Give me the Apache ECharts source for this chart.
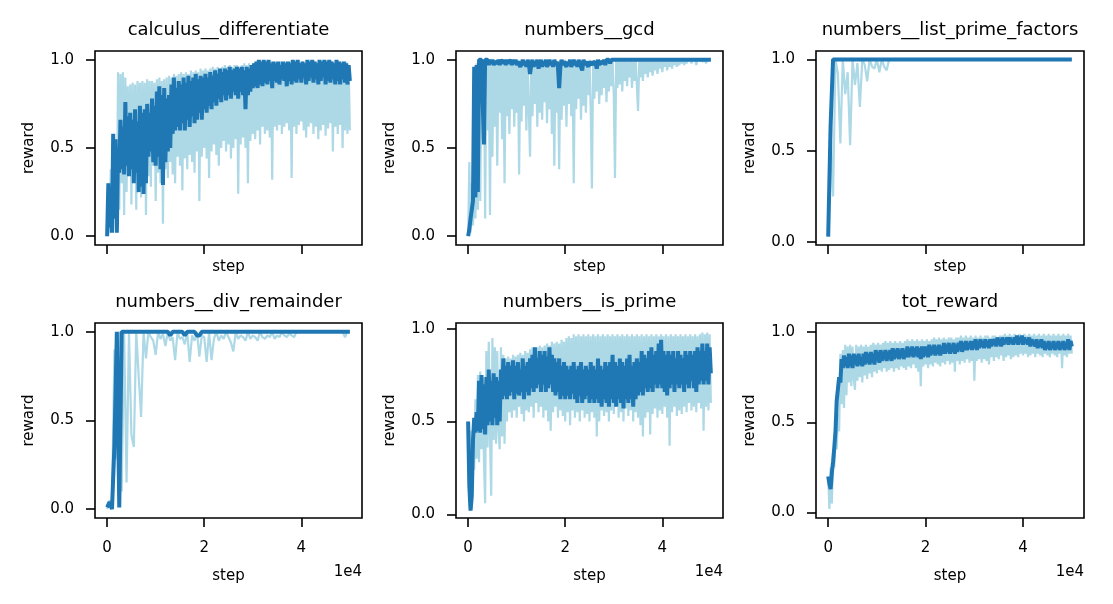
<!DOCTYPE html>
<html>
<head>
<meta charset="utf-8">
<title>reward curves</title>
<script src="https://cdn.jsdelivr.net/npm/echarts@6/dist/echarts.min.js"></script>
<style>
html, body { margin: 0; padding: 0; background: #fff; }
#chart { width: 1113px; height: 604px; }
</style>
</head>
<body>
<div id="chart"></div>
<script>
// logging interval (training steps between two values) of each panel
var panelStep = [250, 250, 500, 500, 250, 250];

var panelTitles = [
  "calculus__differentiate", "numbers__gcd", "numbers__list_prime_factors",
  "numbers__div_remainder", "numbers__is_prime", "tot_reward"
];

var xTicks = [0, 20000, 40000];
var yTicks = [0, 0.5, 1.0];

// raw reward (light) and smoothed reward (dark)
var diffRaw = [0.00,0.30,0.02,0.38,0.05,0.55,0.10,0.45,0.12,0.93,
  0.15,0.92,0.30,0.93,0.12,0.90,0.25,0.85,0.35,0.86,
  0.18,0.87,0.32,0.86,0.15,0.88,0.36,0.87,0.22,0.88,
  0.38,0.87,0.12,0.89,0.34,0.88,0.28,0.88,0.40,0.87,
  0.20,0.89,0.36,0.90,0.30,0.88,0.07,0.89,0.38,0.90,
  0.33,0.91,0.42,0.90,0.35,0.92,0.30,0.91,0.45,0.92,
  0.40,0.93,0.26,0.92,0.44,0.93,0.38,0.92,0.46,0.94,
  0.42,0.93,0.36,0.94,0.48,0.93,0.20,0.95,0.45,0.94,
  0.50,0.95,0.44,0.94,0.33,0.95,0.48,0.96,0.52,0.95,
  0.46,0.96,0.40,0.95,0.50,0.96,0.54,0.97,0.48,0.96,
  0.52,0.97,0.44,0.96,0.50,0.97,0.55,0.97,0.24,0.96,
  0.52,0.97,0.56,0.98,0.50,0.97,0.30,0.98,0.54,0.97,
  0.58,0.98,0.55,0.98,0.60,0.99,0.52,0.98,0.62,0.98,
  0.58,0.99,0.60,0.98,0.56,0.99,0.32,0.98,0.62,0.99,
  0.60,0.98,0.63,0.99,0.58,0.98,0.62,0.99,0.64,0.98,
  0.60,0.99,0.33,0.98,0.62,0.99,0.58,0.99,0.63,0.98,
  0.65,0.99,0.60,0.98,0.56,0.99,0.62,0.99,0.64,0.98,
  0.58,0.99,0.62,0.98,0.55,0.99,0.60,0.99,0.63,0.98,
  0.57,0.99,0.61,0.98,0.64,0.99,0.48,0.98,0.62,0.99,
  0.58,0.98,0.63,0.99,0.50,0.98,0.60,0.99,0.58,0.97,
  0.60];
var diffSmooth = [0.00,0.30,0.05,0.28,0.02,0.58,0.10,0.55,0.02,0.50,
  0.36,0.66,0.38,0.62,0.35,0.76,0.40,0.68,0.34,0.70,
  0.38,0.66,0.30,0.72,0.36,0.65,0.25,0.74,0.28,0.70,
  0.24,0.72,0.30,0.75,0.45,0.70,0.48,0.78,0.42,0.74,
  0.40,0.82,0.45,0.85,0.38,0.80,0.29,0.84,0.42,0.78,
  0.48,0.80,0.50,0.86,0.58,0.90,0.60,0.84,0.62,0.88,
  0.60,0.86,0.64,0.90,0.60,0.87,0.66,0.91,0.62,0.88,
  0.68,0.90,0.64,0.92,0.66,0.89,0.70,0.91,0.66,0.90,
  0.72,0.92,0.70,0.90,0.74,0.93,0.72,0.91,0.76,0.94,
  0.74,0.92,0.78,0.95,0.76,0.93,0.80,0.95,0.77,0.94,
  0.80,0.96,0.78,0.94,0.82,0.95,0.80,0.96,0.78,0.95,
  0.82,0.96,0.80,0.94,0.72,0.96,0.80,0.95,0.82,0.97,
  0.84,0.98,0.85,0.99,0.84,1.00,0.86,0.99,0.85,1.00,
  0.87,0.99,0.86,1.00,0.88,0.98,0.84,0.99,0.88,0.98,
  0.87,0.99,0.86,0.97,0.89,0.99,0.88,0.98,0.85,0.99,
  0.88,0.98,0.86,1.00,0.88,0.99,0.87,1.00,0.89,0.98,
  0.87,0.99,0.90,0.98,0.86,1.00,0.88,0.99,0.90,1.00,
  0.87,0.99,0.89,0.98,0.86,1.00,0.88,0.99,0.90,1.00,
  0.86,0.99,0.88,1.00,0.87,0.99,0.89,0.98,0.86,1.00,
  0.88,0.99,0.86,0.98,0.89,0.99,0.87,0.98,0.86,0.97,
  0.88];

var gcdRaw = [0.00,0.42,0.02,0.30,0.06,0.40,0.10,0.98,0.15,1.00,
  0.20,1.00,0.55,1.00,0.10,1.00,0.60,1.00,0.12,0.99,
  0.45,1.00,0.62,0.99,0.40,1.00,0.70,0.99,0.55,1.00,
  0.30,0.99,0.68,1.00,0.58,0.99,0.72,1.00,0.62,0.99,
  0.70,1.00,0.35,0.99,0.65,1.00,0.74,0.99,0.60,1.00,
  0.72,0.45,1.00,0.68,0.99,0.75,1.00,0.62,0.99,0.70,
  1.00,0.66,0.99,0.76,1.00,0.64,0.99,0.72,1.00,0.58,
  0.99,0.40,1.00,0.70,0.99,0.38,1.00,0.66,0.99,0.74,
  1.00,0.62,0.99,0.75,1.00,0.68,0.99,0.30,1.00,0.72,
  0.99,0.78,1.00,0.66,0.99,0.74,1.00,0.70,0.99,0.80,
  1.00,0.72,0.27,0.99,0.78,1.00,0.82,0.99,0.75,1.00,
  0.80,0.99,0.84,1.00,0.76,0.99,0.82,1.00,0.85,0.99,
  0.80,0.33,1.00,0.84,0.99,0.86,1.00,0.82,0.99,0.88,
  1.00,0.85,0.99,0.90,1.00,0.84,0.99,0.88,1.00,0.86,
  0.71,0.99,0.90,1.00,0.88,0.99,0.92,1.00,0.90,0.99,
  0.93,1.00,0.91,0.99,0.94,1.00,0.92,0.99,0.95,1.00,
  0.93,0.99,0.96,1.00,0.94,0.99,0.96,1.00,0.95,1.00,
  0.97,1.00,0.96,0.99,0.97,1.00,0.98,1.00,0.97,1.00,
  0.98,1.00,0.99,1.00,0.98,1.00,0.99,1.00,0.97,1.00,
  0.99,1.00,1.00,0.99,1.00,1.00,0.98,1.00,1.00,1.00,
  1.00];
var gcdSmooth = [0.00,0.04,0.10,0.15,0.20,0.96,0.22,0.97,0.25,1.00,
  1.00,1.00,1.00,0.52,1.00,0.99,1.00,0.97,1.00,0.98,
  1.00,0.97,0.99,1.00,0.98,1.00,0.97,1.00,0.99,0.98,
  1.00,0.97,1.00,0.98,0.99,1.00,0.97,1.00,0.98,1.00,
  0.97,0.99,1.00,0.96,0.98,1.00,0.97,0.99,0.96,1.00,
  0.98,0.92,0.97,1.00,0.96,0.99,0.97,1.00,0.95,0.98,
  1.00,0.96,0.99,0.97,1.00,0.96,0.98,1.00,0.97,0.99,
  0.96,1.00,0.97,0.99,0.96,0.84,0.96,1.00,0.97,0.99,
  1.00,0.96,0.99,0.97,1.00,0.96,0.98,1.00,0.97,0.99,
  0.96,1.00,0.98,0.99,0.94,1.00,0.97,0.99,1.00,0.96,
  0.99,1.00,0.97,0.99,1.00,0.98,0.95,1.00,0.97,0.99,
  1.00,0.98,1.00,0.97,1.00,0.99,1.00,0.98,1.00,1.00,
  1.00,1.00,1.00,1.00,1.00,1.00,1.00,1.00,1.00,1.00,
  1.00,1.00,1.00,1.00,1.00,1.00,1.00,1.00,1.00,1.00,
  1.00,1.00,1.00,1.00,1.00,1.00,1.00,1.00,1.00,1.00,
  1.00,1.00,1.00,1.00,1.00,1.00,1.00,1.00,1.00,1.00,
  1.00,1.00,1.00,1.00,1.00,1.00,1.00,1.00,1.00,1.00,
  1.00,1.00,1.00,1.00,1.00,1.00,1.00,1.00,1.00,1.00,
  1.00,1.00,1.00,1.00,1.00,1.00,1.00,1.00,1.00,1.00,
  1.00,1.00,1.00,1.00,1.00,1.00,1.00,1.00,1.00,1.00,
  1.00];

var lpfRaw = [0.03,0.60,0.25,1.00,0.92,0.54,1.00,0.81,0.93,0.53,
  1.00,0.86,0.98,0.74,1.00,0.97,0.88,1.00,0.96,0.95,
  1.00,0.93,1.00,0.96,0.94,1.00,1.00,1.00,1.00,1.00,
  1.00,1.00,1.00,1.00,1.00,1.00,1.00,1.00,1.00,1.00,
  1.00,1.00,1.00,1.00,1.00,1.00,1.00,1.00,1.00,1.00,
  1.00,1.00,1.00,1.00,1.00,1.00,1.00,1.00,1.00,1.00,
  1.00,1.00,1.00,1.00,1.00,1.00,1.00,1.00,1.00,1.00,
  1.00,1.00,1.00,1.00,1.00,1.00,1.00,1.00,1.00,1.00,
  1.00,1.00,1.00,1.00,1.00,1.00,1.00,1.00,1.00,1.00,
  1.00,1.00,1.00,1.00,1.00,1.00,1.00,1.00,1.00,1.00,
  1.00];
var lpfSmooth = [0.03,0.64,1.00,1.00,1.00,1.00,1.00,1.00,1.00,1.00,
  1.00,1.00,1.00,1.00,1.00,1.00,1.00,1.00,1.00,1.00,
  1.00,1.00,1.00,1.00,1.00,1.00,1.00,1.00,1.00,1.00,
  1.00,1.00,1.00,1.00,1.00,1.00,1.00,1.00,1.00,1.00,
  1.00,1.00,1.00,1.00,1.00,1.00,1.00,1.00,1.00,1.00,
  1.00,1.00,1.00,1.00,1.00,1.00,1.00,1.00,1.00,1.00,
  1.00,1.00,1.00,1.00,1.00,1.00,1.00,1.00,1.00,1.00,
  1.00,1.00,1.00,1.00,1.00,1.00,1.00,1.00,1.00,1.00,
  1.00,1.00,1.00,1.00,1.00,1.00,1.00,1.00,1.00,1.00,
  1.00,1.00,1.00,1.00,1.00,1.00,1.00,1.00,1.00,1.00,
  1.00];

var divRaw = [0.00,0.05,0.02,0.90,0.28,1.00,0.10,1.00,0.15,1.00,
  0.42,0.35,1.00,0.75,0.52,1.00,0.85,1.00,0.97,0.95,
  0.87,1.00,0.96,0.99,0.92,1.00,0.95,0.97,0.84,1.00,
  0.96,0.97,0.93,1.00,0.83,0.98,0.95,1.00,0.86,0.98,
  0.97,0.83,1.00,0.84,0.96,1.00,0.95,0.98,0.96,1.00,
  0.97,0.94,0.89,1.00,0.96,0.98,0.97,0.95,1.00,0.96,
  0.98,0.97,0.95,1.00,0.97,0.96,0.98,0.97,1.00,0.96,
  0.98,0.97,1.00,0.98,0.97,0.99,0.98,0.97,1.00,1.00,
  1.00,1.00,1.00,1.00,1.00,1.00,1.00,1.00,1.00,1.00,
  1.00,1.00,1.00,1.00,1.00,1.00,1.00,1.00,0.97,1.00,
  1.00];
var divSmooth = [0.01,0.04,0.00,0.36,1.00,0.01,1.00,1.00,1.00,1.00,
  1.00,1.00,1.00,1.00,1.00,1.00,1.00,1.00,1.00,1.00,
  1.00,1.00,1.00,1.00,1.00,1.00,0.98,1.00,1.00,1.00,
  1.00,1.00,0.98,1.00,1.00,1.00,1.00,0.98,0.98,1.00,
  1.00,1.00,1.00,1.00,1.00,1.00,1.00,1.00,1.00,1.00,
  1.00,1.00,1.00,1.00,1.00,1.00,1.00,1.00,1.00,1.00,
  1.00,1.00,1.00,1.00,1.00,1.00,1.00,1.00,1.00,1.00,
  1.00,1.00,1.00,1.00,1.00,1.00,1.00,1.00,1.00,1.00,
  1.00,1.00,1.00,1.00,1.00,1.00,1.00,1.00,1.00,1.00,
  1.00,1.00,1.00,1.00,1.00,1.00,1.00,1.00,1.00,1.00,
  1.00];

var primeRaw = [0.50,0.05,0.45,0.22,0.40,0.24,0.62,0.30,0.75,0.28,
  0.77,0.35,0.74,0.30,0.06,0.88,0.36,0.93,0.42,0.10,
  0.95,0.40,0.90,0.38,0.88,0.45,0.35,0.90,0.42,0.86,
  0.38,0.84,0.50,0.85,0.55,0.84,0.52,0.86,0.56,0.85,
  0.52,0.86,0.58,0.87,0.54,0.86,0.50,0.88,0.56,0.87,
  0.55,0.89,0.58,0.90,0.52,0.88,0.60,0.90,0.55,0.91,
  0.58,0.90,0.52,0.91,0.56,0.92,0.50,0.91,0.45,0.93,
  0.55,0.92,0.58,0.93,0.52,0.92,0.56,0.94,0.53,0.93,
  0.50,0.95,0.55,0.96,0.48,0.95,0.56,0.97,0.52,0.96,
  0.55,0.97,0.50,0.96,0.56,0.97,0.52,0.96,0.54,0.97,
  0.50,0.96,0.55,0.97,0.52,0.96,0.42,0.97,0.50,0.96,
  0.56,0.97,0.53,0.96,0.55,0.97,0.50,0.96,0.56,0.97,
  0.54,0.96,0.58,0.97,0.52,0.96,0.55,0.97,0.50,0.96,
  0.57,0.97,0.53,0.96,0.56,0.97,0.50,0.96,0.55,0.97,
  0.52,0.96,0.48,0.97,0.42,0.96,0.52,0.97,0.55,0.96,
  0.43,0.97,0.54,0.96,0.57,0.97,0.52,0.96,0.56,0.97,
  0.54,0.96,0.58,0.97,0.52,0.96,0.37,0.97,0.55,0.96,
  0.58,0.97,0.53,0.96,0.56,0.97,0.54,0.96,0.58,0.97,
  0.55,0.96,0.60,0.97,0.56,0.96,0.58,0.97,0.55,0.96,
  0.60,0.97,0.57,0.98,0.45,0.97,0.58,0.98,0.56,0.97,
  0.60];
var primeSmooth = [0.50,0.15,0.02,0.10,0.40,0.52,0.44,0.55,0.45,0.72,
  0.44,0.75,0.46,0.70,0.43,0.74,0.48,0.78,0.50,0.72,
  0.48,0.76,0.52,0.74,0.48,0.72,0.50,0.78,0.62,0.84,
  0.64,0.80,0.62,0.82,0.64,0.80,0.66,0.83,0.62,0.80,
  0.65,0.82,0.64,0.78,0.66,0.84,0.62,0.80,0.66,0.82,
  0.64,0.84,0.68,0.86,0.66,0.90,0.68,0.84,0.70,0.88,
  0.66,0.86,0.70,0.88,0.66,0.85,0.68,0.90,0.70,0.86,
  0.66,0.84,0.64,0.82,0.66,0.84,0.62,0.80,0.64,0.82,
  0.62,0.80,0.64,0.78,0.62,0.80,0.65,0.82,0.62,0.78,
  0.60,0.80,0.64,0.82,0.60,0.78,0.62,0.80,0.64,0.78,
  0.60,0.82,0.62,0.80,0.60,0.78,0.62,0.84,0.60,0.80,
  0.58,0.78,0.62,0.82,0.60,0.80,0.58,0.82,0.62,0.86,
  0.60,0.82,0.58,0.80,0.62,0.84,0.60,0.82,0.57,0.80,
  0.62,0.84,0.60,0.86,0.62,0.80,0.58,0.82,0.62,0.84,
  0.64,0.82,0.66,0.88,0.64,0.86,0.68,0.84,0.66,0.88,
  0.68,0.90,0.66,0.86,0.70,0.88,0.68,0.92,0.70,0.94,
  0.68,0.88,0.66,0.86,0.64,0.88,0.68,0.86,0.70,0.88,
  0.66,0.84,0.70,0.88,0.68,0.86,0.70,0.84,0.66,0.88,
  0.70,0.86,0.68,0.88,0.72,0.86,0.68,0.88,0.66,0.90,
  0.70,0.88,0.72,0.92,0.70,0.88,0.72,0.92,0.70,0.90,
  0.76];

var totRaw = [0.20,0.02,0.25,0.05,0.30,0.25,0.40,0.35,0.55,0.45,
  0.88,0.60,0.90,0.58,0.93,0.65,0.92,0.72,0.93,0.70,
  0.92,0.74,0.68,0.93,0.73,0.92,0.75,0.93,0.72,0.92,
  0.76,0.93,0.74,0.92,0.77,0.93,0.75,0.94,0.78,0.93,
  0.77,0.94,0.79,0.93,0.78,0.94,0.80,0.95,0.78,0.94,
  0.79,0.95,0.80,0.94,0.78,0.95,0.80,0.94,0.79,0.95,
  0.81,0.94,0.80,0.95,0.79,0.96,0.81,0.95,0.80,0.96,
  0.82,0.95,0.80,0.96,0.78,0.95,0.70,0.96,0.81,0.95,
  0.82,0.96,0.80,0.95,0.82,0.96,0.81,0.97,0.83,0.96,
  0.82,0.97,0.81,0.96,0.83,0.97,0.82,0.96,0.84,0.97,
  0.82,0.97,0.83,0.96,0.78,0.97,0.84,0.97,0.82,0.98,
  0.84,0.97,0.83,0.98,0.85,0.97,0.83,0.98,0.84,0.97,
  0.73,0.98,0.84,0.97,0.85,0.98,0.83,0.97,0.85,0.98,
  0.84,0.98,0.82,0.97,0.86,0.98,0.84,0.98,0.86,0.97,
  0.85,0.98,0.87,0.98,0.84,0.99,0.86,0.98,0.87,0.99,
  0.85,0.98,0.86,0.99,0.87,0.98,0.86,0.99,0.88,0.98,
  0.87,0.99,0.88,0.98,0.86,0.99,0.87,0.98,0.88,0.99,
  0.86,0.98,0.88,0.99,0.87,0.98,0.86,0.99,0.88,0.98,
  0.87,0.99,0.86,0.98,0.88,0.99,0.87,0.98,0.86,0.99,
  0.88,0.98,0.80,0.99,0.87,0.98,0.86,0.99,0.88,0.98,
  0.88];
var totSmooth = [0.20,0.16,0.13,0.22,0.28,0.36,0.45,0.62,0.62,0.75,
  0.72,0.85,0.80,0.87,0.81,0.86,0.80,0.88,0.81,0.87,
  0.80,0.88,0.82,0.87,0.81,0.88,0.82,0.86,0.81,0.88,
  0.82,0.89,0.83,0.88,0.82,0.89,0.83,0.88,0.82,0.90,
  0.84,0.89,0.83,0.90,0.84,0.89,0.85,0.90,0.84,0.89,
  0.85,0.90,0.84,0.91,0.85,0.90,0.86,0.91,0.85,0.90,
  0.86,0.91,0.85,0.90,0.86,0.92,0.86,0.91,0.87,0.92,
  0.86,0.91,0.87,0.92,0.86,0.91,0.85,0.92,0.86,0.92,
  0.87,0.92,0.86,0.93,0.87,0.92,0.88,0.93,0.87,0.92,
  0.88,0.93,0.87,0.92,0.88,0.94,0.88,0.93,0.89,0.94,
  0.88,0.93,0.89,0.94,0.88,0.93,0.89,0.94,0.90,0.95,
  0.89,0.94,0.90,0.95,0.90,0.94,0.91,0.95,0.90,0.95,
  0.91,0.96,0.90,0.95,0.91,0.96,0.92,0.95,0.91,0.96,
  0.92,0.95,0.91,0.96,0.92,0.96,0.93,0.96,0.92,0.97,
  0.93,0.96,0.92,0.97,0.93,0.96,0.94,0.97,0.93,0.97,
  0.94,0.96,0.93,0.97,0.94,0.98,0.93,0.97,0.94,0.98,
  0.93,0.97,0.94,0.96,0.93,0.97,0.92,0.96,0.93,0.95,
  0.92,0.96,0.91,0.95,0.92,0.96,0.91,0.95,0.90,0.94,
  0.91,0.95,0.90,0.94,0.91,0.95,0.90,0.94,0.91,0.95,
  0.90,0.94,0.91,0.95,0.90,0.94,0.91,0.96,0.90,0.95,
  0.92];

var rawSeries = [diffRaw, gcdRaw, lpfRaw, divRaw, primeRaw, totRaw];
var smoothSeries = [diffSmooth, gcdSmooth, lpfSmooth, divSmooth, primeSmooth, totSmooth];

// axes boxes in px: left, top, width, height
var boxes = [
  [95, 51, 267, 194], [456, 51, 267, 194], [816, 51, 268, 194],
  [95, 323, 267, 195], [456, 323, 267, 195], [816, 323, 268, 195]
];
var yRange = [[-0.05, 1.05], [-0.05, 1.05], [-0.016, 1.046],
  [-0.05, 1.05], [-0.02, 1.031], [-0.03, 1.05]];

var FONT = "DejaVu Sans";
var c1 = "#add8e6", c2 = "#1f77b4";

function toPoints(arr, step) {
  return arr.map(function(v, i) {
    return [i * step, v];
  });
}

var option = {
  animation: false,
  backgroundColor: "#fff",
  textStyle: { fontFamily: FONT, color: "#000" },
  title: [],
  grid: [],
  xAxis: [],
  yAxis: [],
  series: [],
  graphic: []
};

boxes.forEach(function(b, i) {
  var bottomRow = i >= 3;
  option.grid.push({
    left: b[0], top: b[1], width: b[2], height: b[3],
    show: true, borderColor: "#000", borderWidth: 1.6,
    backgroundColor: "transparent"
  });
  option.title.push({
    text: panelTitles[i],
    left: b[0] + b[2] / 2,
    top: b[1] - 30,
    textAlign: "center",
    padding: 0,
    textStyle: { fontFamily: FONT, fontSize: 18, fontWeight: "normal", color: "#000" }
  });
  option.xAxis.push({
    type: "value",
    gridIndex: i,
    min: -2500,
    max: 52500,
    name: "step",
    nameLocation: "middle",
    nameGap: bottomRow ? 51 : 15,
    nameTextStyle: { fontFamily: FONT, fontSize: 15, color: "#000" },
    axisLine: { show: false, onZero: false },
    splitLine: { show: false },
    axisTick: {
      show: true, length: 9, customValues: xTicks,
      lineStyle: { color: "#000", width: 1.6 }
    },
    axisLabel: {
      show: bottomRow, customValues: xTicks, margin: 23,
      fontFamily: FONT, fontSize: 15, color: "#000",
      formatter: function(v) { return String(v / 10000); }
    }
  });
  option.yAxis.push({
    type: "value",
    gridIndex: i,
    min: yRange[i][0],
    max: yRange[i][1],
    name: "reward",
    nameLocation: "middle",
    nameGap: 58,
    nameTextStyle: { fontFamily: FONT, fontSize: 15, color: "#000" },
    axisLine: { show: false, onZero: false },
    splitLine: { show: false },
    axisTick: {
      show: true, length: 9, customValues: yTicks,
      lineStyle: { color: "#000", width: 1.6 }
    },
    axisLabel: {
      customValues: yTicks, margin: 21,
      fontFamily: FONT, fontSize: 15, color: "#000",
      formatter: function(v) { return v.toFixed(1); }
    }
  });
  option.series.push({
    type: "line", xAxisIndex: i, yAxisIndex: i,
    showSymbol: false, symbol: "none", silent: true,
    lineStyle: { color: c1, width: 2.2 },
    data: toPoints(rawSeries[i], panelStep[i])
  });
  option.series.push({
    type: "line", xAxisIndex: i, yAxisIndex: i,
    showSymbol: false, symbol: "none", silent: true,
    lineStyle: { color: c2, width: 4 },
    data: toPoints(smoothSeries[i], panelStep[i])
  });
  if (bottomRow) {
    // matplotlib style offset text
    option.graphic.push({
      type: "text",
      x: b[0] + b[2],
      y: 572,
      style: {
        text: "1e4",
        font: "15px " + FONT,
        fill: "#000",
        textAlign: "right", align: "right",
        textVerticalAlign: "middle", verticalAlign: "middle"
      }
    });
  }
});

var myChart = echarts.init(document.getElementById("chart"));
myChart.setOption(option);
window.addEventListener("resize", function() {
  myChart.resize();
});
</script>
</body>
</html>
